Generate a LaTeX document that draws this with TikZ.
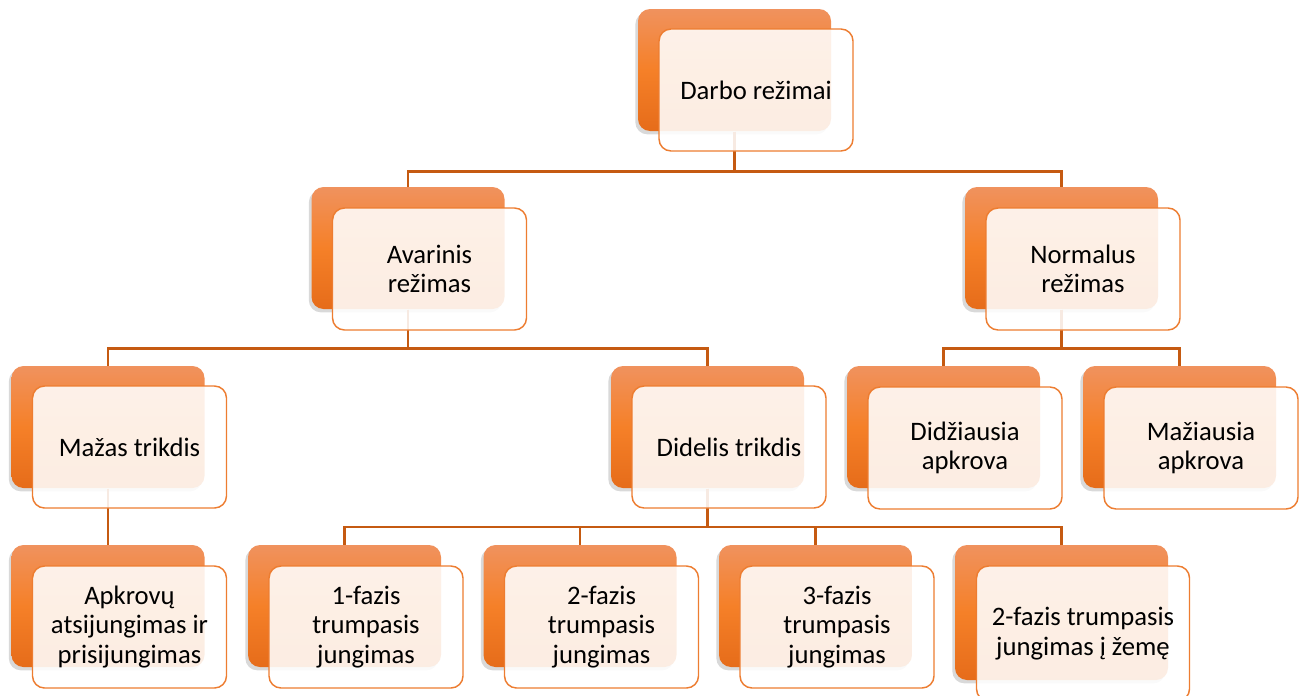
\documentclass[tikz,border=0pt]{standalone}
\usepackage{fontspec}
\setmainfont{Carlito}
\usetikzlibrary{shadows}
\definecolor{backtop}{RGB}{240,146,94}
\definecolor{backmid}{RGB}{245,128,40}
\definecolor{backbot}{RGB}{230,108,26}
\definecolor{frameline}{RGB}{237,125,49}
\definecolor{linkline}{RGB}{197,90,17}
\tikzset{every picture/.style={line width=0.75pt}}

\begin{document}
\begin{tikzpicture}[x=0.75pt,y=0.75pt,yscale=-1,xscale=1,
    back/.style={rounded corners=9pt, minimum width=144.75pt, minimum height=91.5pt, draw=none,
        top color=backtop, bottom color=backbot, middle color=backmid,
        drop shadow={shadow xshift=-2pt, shadow yshift=-2.5pt, opacity=0.3}},
    front/.style={rounded corners=9pt, minimum width=145.5pt, minimum height=91.5pt, inner sep=0pt,
        draw=frameline, line width=1.1pt, fill=white, fill opacity=0.88, text opacity=1,
        align=center, font=\fontsize{20}{22}\selectfont},
    link/.style={draw=linkline, line width=1.9pt}]
    \useasboundingbox (0,0) rectangle (1304,696);

    % Back boxes
    \node[back] (b0) at (734.5,70) {};
    \node[back] (b1) at (408,248) {};
    \node[back] (b2) at (1061.5,248) {};
    \node[back] (b3) at (108,427) {};
    \node[back] (b4) at (707.5,427) {};
    \node[back] (b5) at (943.5,427) {};
    \node[back] (b6) at (1179.5,427) {};
    \node[back] (b7) at (108,606) {};
    \node[back] (b8) at (344.5,606) {};
    \node[back] (b9) at (580,606) {};
    \node[back] (b10) at (815.5,606) {};
    \node[back, minimum width=159.75pt, minimum height=101.25pt] (b11) at (1061.5,612.5) {};

    % Connectors
    \draw[link] (b0.south) -- ++(0,40) -| (b1.north);
    \draw[link] (b0.south) -- ++(0,40) -| (b2.north);
    \draw[link] (b1.south) -- ++(0,39) -| (b3.north);
    \draw[link] (b1.south) -- ++(0,39) -| (b4.north);
    \draw[link] (b2.south) -- ++(0,39) -| (b5.north);
    \draw[link] (b2.south) -- ++(0,39) -| (b6.north);
    \draw[link] (b3.south) -- (b7.north);
    \draw[link] (b4.south) -- ++(0,38.5) -| (b8.north);
    \draw[link] (b4.south) -- ++(0,38.5) -| (b9.north);
    \draw[link] (b4.south) -- ++(0,38.5) -| (b10.north);
    \draw[link] (b4.south) -- ++(0,38.5) -| (b11.north);

    % Front boxes
    \node[front] (f0) at (756,90) {Darbo režimai};
    \node[front] (f1) at (429.5,269) {Avarinis\\režimas};
    \node[front] (f2) at (1083,269) {Normalus\\režimas};
    \node[front] (f3) at (129.5,447) {Mažas trikdis};
    \node[front] (f4) at (729,447) {Didelis trikdis};
    \node[front] (f5) at (965,448) {Didžiausia\\apkrova};
    \node[front] (f6) at (1201,448) {Mažiausia\\apkrova};
    \node[front] (f7) at (129.5,627) {Apkrovų\\atsijungimas ir\\prisijungimas};
    \node[front] (f8) at (366,627) {1-fazis\\trumpasis\\jungimas};
    \node[front] (f9) at (601.5,627) {2-fazis\\trumpasis\\jungimas};
    \node[front] (f10) at (837,627) {3-fazis\\trumpasis\\jungimas};
    \node[front, minimum width=159.75pt, minimum height=101.25pt] (f11) at (1083,633.5) {2-fazis trumpasis\\jungimas į žemę};

\end{tikzpicture}
\end{document}
